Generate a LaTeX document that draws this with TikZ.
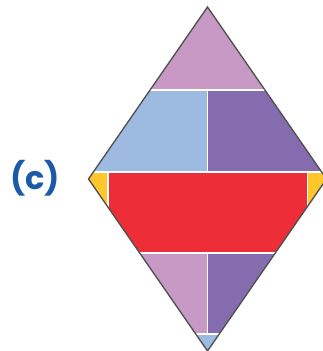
\documentclass[tikz,border=0pt]{standalone}
\usepackage{fontspec}
\newfontfamily\labelfont{Poppins}
\definecolor{pinkc}{RGB}{199,153,196}
\definecolor{bluec}{RGB}{157,187,224}
\definecolor{purplec}{RGB}{133,108,175}
\definecolor{redc}{RGB}{237,46,56}
\definecolor{yellowc}{RGB}{255,199,44}
\definecolor{labelc}{RGB}{28,90,168}
\definecolor{edgec}{RGB}{80,80,80}
\tikzset{
  sep/.style={white, line width=1.2pt},
  outline/.style={edgec, line width=1pt, line join=miter},
}
\begin{document}
\begin{tikzpicture}[x=0.75pt,y=-0.75pt]
\useasboundingbox (0,0) rectangle (323,351);
\clip (0,0) rectangle (323,351);
\coordinate (T) at (207.5,7);
\coordinate (L) at (88.5,179);
\coordinate (R) at (326.5,179);
\coordinate (B) at (207.5,351);
\begin{scope}
  \clip (T) -- (R) -- (B) -- (L) -- cycle;
  \fill[pinkc] (0,0) rectangle (330,90);
  \fill[bluec] (0,90) rectangle (207.5,172);
  \fill[purplec] (207.5,90) rectangle (330,172);
  \fill[yellowc] (0,172) rectangle (108,253);
  \fill[redc] (108,172) rectangle (307.5,253);
  \fill[yellowc] (307.5,172) rectangle (330,253);
  \fill[pinkc] (0,253) rectangle (207.5,334);
  \fill[purplec] (207.5,253) rectangle (330,334);
  \fill[bluec] (0,334) rectangle (330,360);
  \draw[sep] (0,90) -- (330,90);
  \draw[sep] (0,172) -- (330,172);
  \draw[sep] (0,253) -- (330,253);
  \draw[sep] (0,334) -- (330,334);
  \draw[sep] (207.5,90) -- (207.5,172);
  \draw[sep] (207.5,253) -- (207.5,334);
  \draw[sep] (108,172) -- (108,253);
  \draw[sep] (307.5,172) -- (307.5,253);
\end{scope}
\draw[outline] (T) -- (R) -- (B) -- (L) -- cycle;
\node[labelc, font=\labelfont\bfseries\fontsize{24}{24}\selectfont, inner sep=0pt] (lbl) at (35,178) {(c)};
\end{tikzpicture}
\end{document}
